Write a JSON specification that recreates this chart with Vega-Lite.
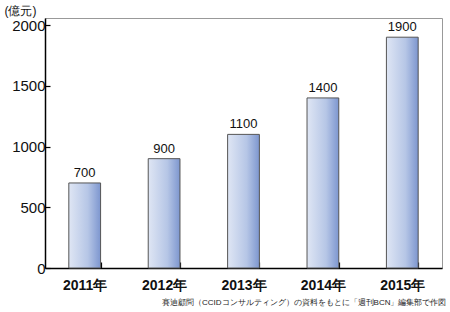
{
  "$schema": "https://vega.github.io/schema/vega-lite/v6.json",
  "autosize": "none",
  "padding": {"left": 45, "top": 18, "right": 8, "bottom": 44},
  "width": 397,
  "height": 250,
  "background": "white",
  "config": {
    "font": "Liberation Sans",
    "view": {"stroke": "#999999", "strokeWidth": 1}
  },
  "data": {
    "values": [
      {"year": "2011年", "value": 700},
      {"year": "2012年", "value": 900},
      {"year": "2013年", "value": 1100},
      {"year": "2014年", "value": 1400},
      {"year": "2015年", "value": 1900}
    ]
  },
  "encoding": {
    "x": {
      "field": "year", "type": "nominal", "sort": null,
      "scale": {"paddingInner": 0.6, "paddingOuter": 0.3},
      "axis": {
        "title": "賽迪顧問（CCIDコンサルティング）の資料をもとに「週刊BCN」編集部で作図",
        "titleFontSize": 8, "titleFontWeight": "normal", "titleColor": "#222222",
        "titleAnchor": "end", "titleAlign": "right", "titleBaseline": "alphabetic",
        "titleX": 401, "titleY": 36,
        "labelAngle": 0, "labelFontSize": 14, "labelFontWeight": "bold", "labelColor": "#111111",
        "labelPadding": 16, "labelBaseline": "top",
        "domainColor": "#000000", "domainWidth": 1.5,
        "tickBand": "extent", "tickSize": -6, "tickColor": "#000000", "tickWidth": 1.2
      }
    },
    "y": {
      "field": "value", "type": "quantitative",
      "scale": {"domain": [0, 2058], "nice": false},
      "axis": {
        "values": [0, 500, 1000, 1500, 2000], "format": "d",
        "title": "(億元)", "titleAngle": 0, "titleFontSize": 12, "titleFontWeight": "normal",
        "titleAlign": "left", "titleBaseline": "alphabetic", "titleX": -41, "titleY": -4,
        "titleColor": "#111111",
        "labelFontSize": 15, "labelColor": "#111111", "labelPadding": 5,
        "grid": false,
        "domainColor": "#000000", "domainWidth": 1.5,
        "tickSize": -5, "tickColor": "#000000", "tickWidth": 1.2
      }
    }
  },
  "layer": [
    {
      "mark": {
        "type": "bar",
        "stroke": "#555555", "strokeWidth": 1,
        "color": {
          "gradient": "linear", "x1": 0, "x2": 1, "y1": 0, "y2": 0,
          "stops": [
            {"offset": 0, "color": "#dfe6f4"},
            {"offset": 0.6, "color": "#b6c6e6"},
            {"offset": 1, "color": "#7d96cf"}
          ]
        }
      }
    },
    {
      "mark": {"type": "text", "baseline": "bottom", "dy": -3, "fontSize": 13, "color": "#111111"},
      "encoding": {"text": {"field": "value", "type": "quantitative"}}
    }
  ]
}
